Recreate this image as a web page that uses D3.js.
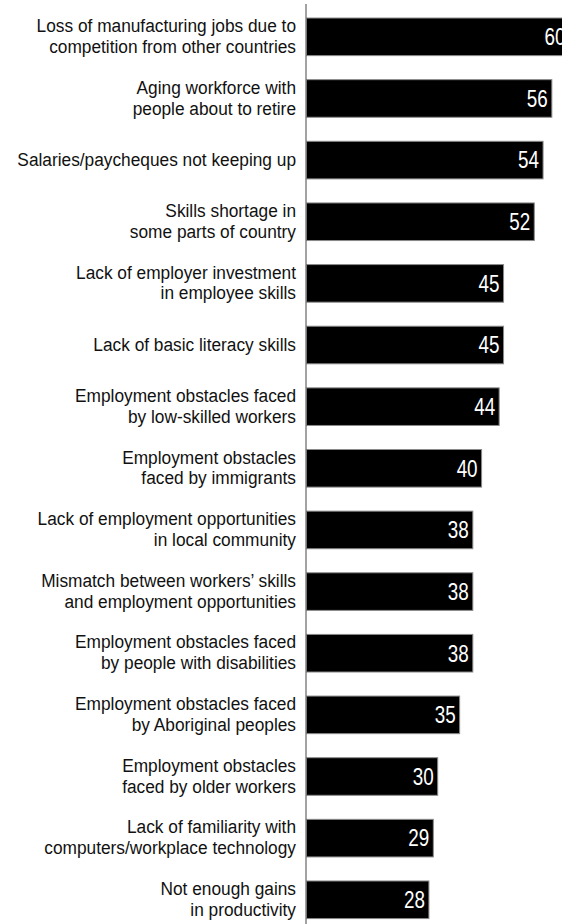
<!DOCTYPE html>
<html>
<head>
<meta charset="utf-8">
<script src="https://cdn.jsdelivr.net/npm/d3@7"></script>
<style>
  html, body { margin: 0; padding: 0; background: #fff; }
  svg { display: block; }
  text { font-family: "Liberation Sans", Arial, sans-serif; }
</style>
</head>
<body>
<svg id="chart" width="562" height="924"></svg>
<script>
// Issue labels (each entry is a list of display lines) and percentages
const categories = [
  ["Loss of manufacturing jobs due to", "competition from other countries"],
  ["Aging workforce with", "people about to retire"],
  ["Salaries/paycheques not keeping up"],
  ["Skills shortage in", "some parts of country"],
  ["Lack of employer investment", "in employee skills"],
  ["Lack of basic literacy skills"],
  ["Employment obstacles faced", "by low-skilled workers"],
  ["Employment obstacles", "faced by immigrants"],
  ["Lack of employment opportunities", "in local community"],
  ["Mismatch between workers\u2019 skills", "and employment opportunities"],
  ["Employment obstacles faced", "by people with disabilities"],
  ["Employment obstacles faced", "by Aboriginal peoples"],
  ["Employment obstacles", "faced by older workers"],
  ["Lack of familiarity with", "computers/workplace technology"],
  ["Not enough gains", "in productivity"]
];
const values = [60, 56, 54, 52, 45, 45, 44, 40, 38, 38, 38, 35, 30, 29, 28];

const svg = d3.select("#chart");
const axisX = 306;
const narrowValue = 0.82; // horizontal squeeze for condensed figures
const narrowLabel = 0.91; // horizontal squeeze for category text

const x = d3.scaleLinear().domain([0, 60]).range([axisX, axisX + 263.4]);
const y = d3.scaleBand()
  .domain(d3.range(values.length))
  .range([6, 6 + 61.64 * values.length])
  .paddingInner(0.39)
  .paddingOuter(0.195);

// bars
svg.append("g").selectAll("rect")
  .data(values)
  .join("rect")
  .attr("x", x(0) + 0.5)
  .attr("y", (d, i) => y(i))
  .attr("width", d => x(d) - x(0) - 0.5)
  .attr("height", y.bandwidth())
  .attr("fill", "#000")
  .attr("stroke", "#8a8a8a")
  .attr("stroke-width", 1);

// value labels inside bar ends
svg.append("g").selectAll("g")
  .data(values)
  .join("g")
  .attr("transform", (d, i) => `translate(${x(d) - 4},${y(i) + y.bandwidth() / 2}) scale(${narrowValue},1)`)
  .append("text")
  .attr("dy", "0.36em")
  .attr("text-anchor", "end")
  .attr("fill", "#fff")
  .attr("font-size", 23)
  .text(d => d);

// category labels
const lineH = 20.8;
const lab = svg.append("g").selectAll("g")
  .data(categories)
  .join("g")
  .attr("transform", (d, i) =>
    `translate(${axisX - 10},${y(i) + y.bandwidth() / 2 - (d.length - 1) * lineH / 2 - 1}) scale(${narrowLabel},1)`)
  .append("text")
  .attr("text-anchor", "end")
  .attr("fill", "#111")
  .attr("font-size", 19);
lab.selectAll("tspan")
  .data(d => d)
  .join("tspan")
  .attr("x", 0)
  .attr("dy", (d, j) => j === 0 ? "0.35em" : lineH)
  .text(d => d);

// vertical axis line
svg.append("line")
  .attr("x1", axisX).attr("x2", axisX)
  .attr("y1", 4).attr("y2", 924)
  .attr("stroke", "#666")
  .attr("stroke-width", 1.2);
</script>
</body>
</html>
